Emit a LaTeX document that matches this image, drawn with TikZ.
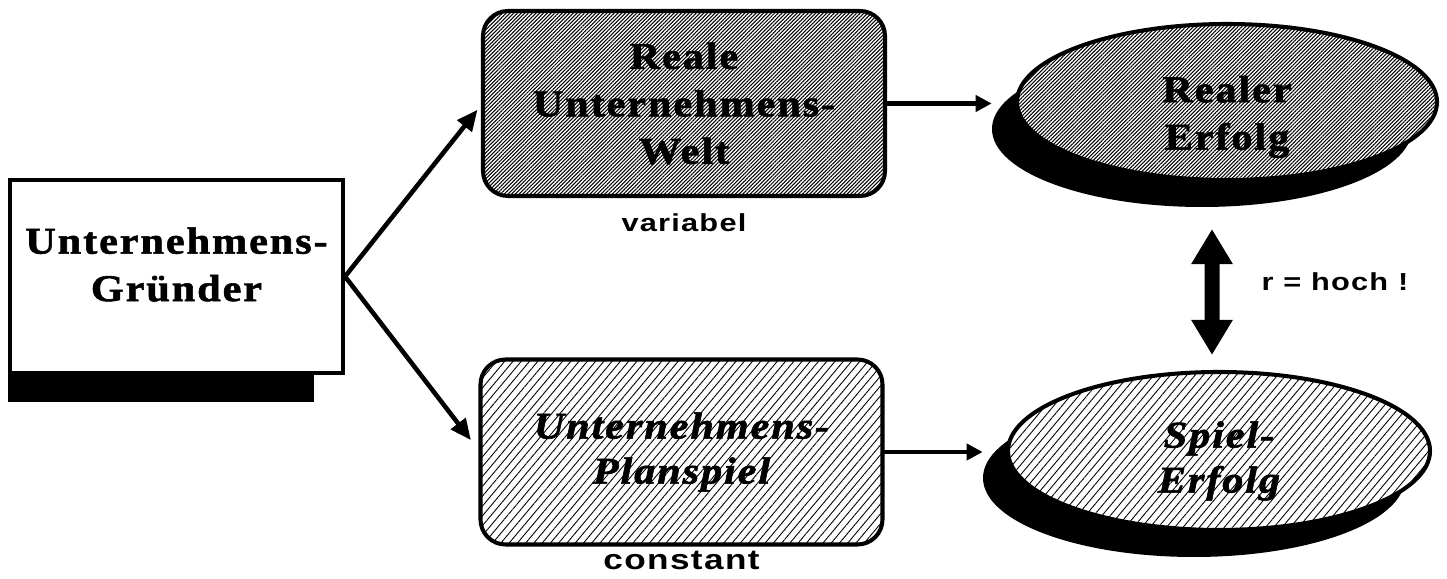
\documentclass[tikz,border=0pt]{standalone}
\usepackage{fontspec}
\setmainfont{Liberation Serif}
\setsansfont{Liberation Sans}
\newfontfamily\wideserif[FakeStretch=1.12,LetterSpace=5,FakeBold=1.5]{Liberation Serif}
\newfontfamily\widesans[FakeStretch=1.25,LetterSpace=5]{Liberation Sans}
\usepackage{tikz}
\usetikzlibrary{arrows.meta,shapes.geometric,positioning,calc,backgrounds,patterns.meta}
\tikzset{
  bigtext/.style ={font=\fontsize{21.5}{27}\selectfont\wideserif\bfseries, align=center},
  slanttext/.style={font=\fontsize{21.5}{25.6}\selectfont\wideserif\bfseries\itshape, align=center},
  sanslbl/.style ={font=\fontsize{14}{17}\selectfont\widesans\bfseries, inner sep=1pt},
  densefill/.style={preaction={fill=white},
                    pattern={Lines[angle=45,distance=1.5pt,line width=0.6pt]}},
  thinfill/.style ={preaction={fill=white},
                    pattern={Lines[angle=50,distance=3.6pt,line width=0.5pt]}},
  founderbox/.style={draw, line width=2.3pt, fill=white,
                    minimum width=6.66cm, minimum height=3.86cm},
  worldbox/.style ={draw, line width=2.3pt, rounded corners=0.5cm,
                    minimum width=8.04cm, minimum height=3.7cm},
  resultell/.style={ellipse, draw, line width=2.3pt, inner sep=0pt,
                    minimum width=8.4cm, minimum height=3.12cm},
  shadowell/.style={ellipse, fill=black, inner sep=0pt,
                    minimum width=8.4cm, minimum height=3.12cm},
  arr/.style      ={-{Triangle[length=0.42cm,width=0.36cm]}, line width=2.6pt},
  sarr/.style     ={-{Triangle[length=0.32cm,width=0.32cm]}, line width=2.4pt},
  bigarr/.style   ={{Triangle[length=0.7cm,width=0.78cm]}-{Triangle[length=0.7cm,width=0.78cm]},
                    line width=0.3cm},
}
\begin{document}
\begin{tikzpicture}
  \useasboundingbox (0,0) rectangle (28.94,11.58);
  % boxes
  \node[founderbox] (founder) at (3.53,6.05) {};
  \node[bigtext] (foundertext) at ([yshift=0.24cm]founder.center) {Unternehmens-\\Gr\"under};
  \node[worldbox, densefill, bigtext] (realworld) at (13.68,9.51)
       {Reale\\Unternehmens-\\Welt};
  \node[worldbox, thinfill, slanttext] (planspiel) at (13.63,2.54)
       {Unternehmens-\\Planspiel};
  \node[sanslbl, below=0.3cm of realworld] (variabel) {variabel};
  \node[sanslbl, below=0.08cm of planspiel, font=\fontsize{16}{19}\selectfont\widesans\bfseries]
       (constant) {constant};
  % results
  \node[resultell, densefill] (realerfolg) at (24.54,9.54) {};
  \node[bigtext] (realtext) at ([yshift=-0.3cm]realerfolg.center) {Realer\\Erfolg};
  \node[resultell, thinfill, minimum width=8.44cm, minimum height=3.16cm]
       (spielerfolg) at (24.38,2.56) {};
  \node[slanttext] (spieltext) at ([yshift=-0.2cm]spielerfolg.center) {Spiel-\\Erfolg};
  % shadows
  \begin{scope}[on background layer]
    \fill ($(founder.south west)+(0,-0.54)$) rectangle ($(founder.north east)+(-0.62,-0.54)$);
    \node[shadowell] (realshadow) at ($(realerfolg)+(-0.5,-0.54)$) {};
    \node[shadowell, minimum width=8.44cm, minimum height=3.16cm]
         (spielshadow) at ($(spielerfolg)+(-0.5,-0.54)$) {};
  \end{scope}
  % arrows
  \draw[arr, shorten >=0.16cm] (founder.east) -- (realworld.west);
  \draw[arr, shorten >=0.3cm] (founder.east) -- (planspiel.west);
  \draw[sarr] (realworld.east) -- (realworld.east -| realshadow.west);
  \draw[sarr] (planspiel.east) -- (planspiel.east -| spielshadow.west);
  \coordinate (corrtop) at ($(realerfolg.south)+(-0.3,-0.94)$);
  \coordinate (corrbot) at ($(spielerfolg.north)+(-0.14,0.3)$);
  \draw[bigarr] (corrtop) -- (corrbot);
  \node[sanslbl, anchor=west] (rlabel) at ($(corrtop)!0.5!(corrbot)+(0.95,0.2)$) {r = hoch !};
\end{tikzpicture}
\end{document}
